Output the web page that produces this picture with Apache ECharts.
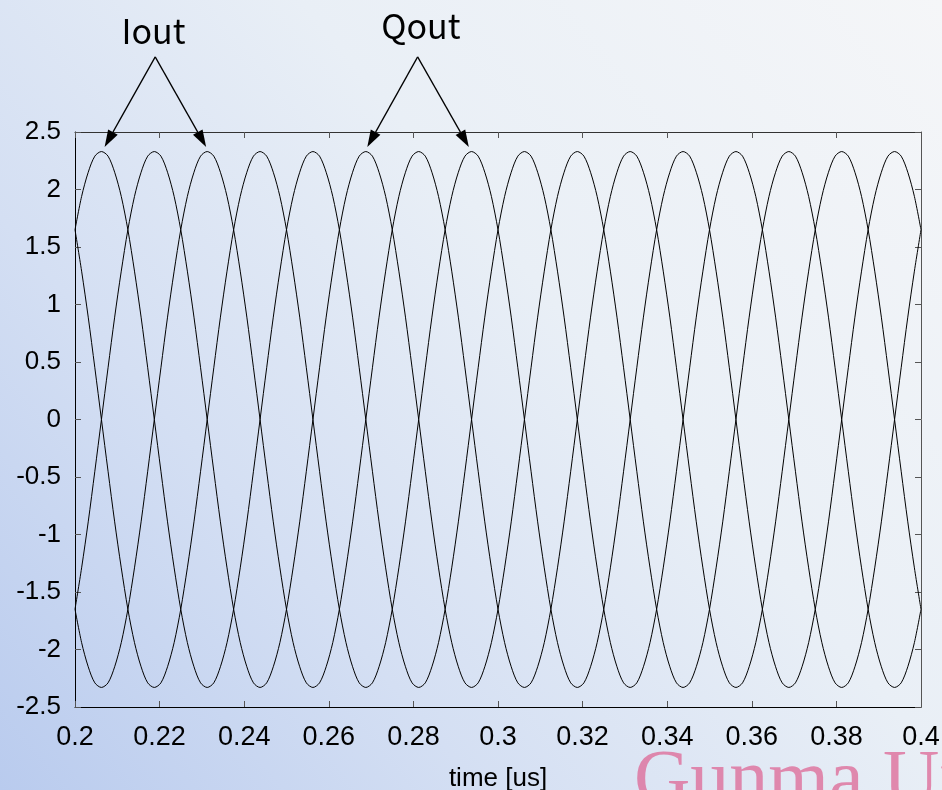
<!DOCTYPE html>
<html>
<head>
<meta charset="utf-8">
<script src="https://cdn.jsdelivr.net/npm/echarts@6/dist/echarts.min.js"></script>
<style>
html,body{margin:0;padding:0;}
#chart{width:942px;height:790px;}
</style>
</head>
<body>
<div id="chart"></div>
<script>
// time axis samples [us]
const time = [
  0.2, 0.2015625, 0.203125, 0.2046875, 0.20625, 0.2078125, 0.209375, 0.2109375, 0.2125, 0.2140625, 0.215625, 0.2171875, 0.21875, 0.2203125, 0.221875, 0.2234375,
  0.225, 0.2265625, 0.228125, 0.2296875, 0.23125, 0.2328125, 0.234375, 0.2359375, 0.2375, 0.2390625, 0.240625, 0.2421875, 0.24375, 0.2453125, 0.246875, 0.2484375,
  0.25, 0.2515625, 0.253125, 0.2546875, 0.25625, 0.2578125, 0.259375, 0.2609375, 0.2625, 0.2640625, 0.265625, 0.2671875, 0.26875, 0.2703125, 0.271875, 0.2734375,
  0.275, 0.2765625, 0.278125, 0.2796875, 0.28125, 0.2828125, 0.284375, 0.2859375, 0.2875, 0.2890625, 0.290625, 0.2921875, 0.29375, 0.2953125, 0.296875, 0.2984375,
  0.3, 0.3015625, 0.303125, 0.3046875, 0.30625, 0.3078125, 0.309375, 0.3109375, 0.3125, 0.3140625, 0.315625, 0.3171875, 0.31875, 0.3203125, 0.321875, 0.3234375,
  0.325, 0.3265625, 0.328125, 0.3296875, 0.33125, 0.3328125, 0.334375, 0.3359375, 0.3375, 0.3390625, 0.340625, 0.3421875, 0.34375, 0.3453125, 0.346875, 0.3484375,
  0.35, 0.3515625, 0.353125, 0.3546875, 0.35625, 0.3578125, 0.359375, 0.3609375, 0.3625, 0.3640625, 0.365625, 0.3671875, 0.36875, 0.3703125, 0.371875, 0.3734375,
  0.375, 0.3765625, 0.378125, 0.3796875, 0.38125, 0.3828125, 0.384375, 0.3859375, 0.3875, 0.3890625, 0.390625, 0.3921875, 0.39375, 0.3953125, 0.396875, 0.3984375,
  0.4
];
// Iout (+)
const iout = [
  1.65, 1.94, 2.15, 2.29, 2.33, 2.29, 2.15, 1.94, 1.65, 1.29, 0.89, 0.45, 0, -0.45, -0.89, -1.29, -1.65, -1.94, -2.15, -2.29, -2.33, -2.29, -2.15, -1.94, -1.65, -1.29, -0.89, -0.45, 0, 0.45, 0.89, 1.29,
  1.65, 1.94, 2.15, 2.29, 2.33, 2.29, 2.15, 1.94, 1.65, 1.29, 0.89, 0.45, 0, -0.45, -0.89, -1.29, -1.65, -1.94, -2.15, -2.29, -2.33, -2.29, -2.15, -1.94, -1.65, -1.29, -0.89, -0.45, 0, 0.45, 0.89, 1.29,
  1.65, 1.94, 2.15, 2.29, 2.33, 2.29, 2.15, 1.94, 1.65, 1.29, 0.89, 0.45, 0, -0.45, -0.89, -1.29, -1.65, -1.94, -2.15, -2.29, -2.33, -2.29, -2.15, -1.94, -1.65, -1.29, -0.89, -0.45, 0, 0.45, 0.89, 1.29,
  1.65, 1.94, 2.15, 2.29, 2.33, 2.29, 2.15, 1.94, 1.65, 1.29, 0.89, 0.45, 0, -0.45, -0.89, -1.29, -1.65, -1.94, -2.15, -2.29, -2.33, -2.29, -2.15, -1.94, -1.65, -1.29, -0.89, -0.45, 0, 0.45, 0.89, 1.29,
  1.65
];
// Iout (-)
const ioutNeg = [
  -1.65, -1.94, -2.15, -2.29, -2.33, -2.29, -2.15, -1.94, -1.65, -1.29, -0.89, -0.45, 0, 0.45, 0.89, 1.29, 1.65, 1.94, 2.15, 2.29, 2.33, 2.29, 2.15, 1.94, 1.65, 1.29, 0.89, 0.45, 0, -0.45, -0.89, -1.29,
  -1.65, -1.94, -2.15, -2.29, -2.33, -2.29, -2.15, -1.94, -1.65, -1.29, -0.89, -0.45, 0, 0.45, 0.89, 1.29, 1.65, 1.94, 2.15, 2.29, 2.33, 2.29, 2.15, 1.94, 1.65, 1.29, 0.89, 0.45, 0, -0.45, -0.89, -1.29,
  -1.65, -1.94, -2.15, -2.29, -2.33, -2.29, -2.15, -1.94, -1.65, -1.29, -0.89, -0.45, 0, 0.45, 0.89, 1.29, 1.65, 1.94, 2.15, 2.29, 2.33, 2.29, 2.15, 1.94, 1.65, 1.29, 0.89, 0.45, 0, -0.45, -0.89, -1.29,
  -1.65, -1.94, -2.15, -2.29, -2.33, -2.29, -2.15, -1.94, -1.65, -1.29, -0.89, -0.45, 0, 0.45, 0.89, 1.29, 1.65, 1.94, 2.15, 2.29, 2.33, 2.29, 2.15, 1.94, 1.65, 1.29, 0.89, 0.45, 0, -0.45, -0.89, -1.29,
  -1.65
];
// Qout (+)
const qout = [
  -1.65, -1.29, -0.89, -0.45, 0, 0.45, 0.89, 1.29, 1.65, 1.94, 2.15, 2.29, 2.33, 2.29, 2.15, 1.94, 1.65, 1.29, 0.89, 0.45, 0, -0.45, -0.89, -1.29, -1.65, -1.94, -2.15, -2.29, -2.33, -2.29, -2.15, -1.94,
  -1.65, -1.29, -0.89, -0.45, 0, 0.45, 0.89, 1.29, 1.65, 1.94, 2.15, 2.29, 2.33, 2.29, 2.15, 1.94, 1.65, 1.29, 0.89, 0.45, 0, -0.45, -0.89, -1.29, -1.65, -1.94, -2.15, -2.29, -2.33, -2.29, -2.15, -1.94,
  -1.65, -1.29, -0.89, -0.45, 0, 0.45, 0.89, 1.29, 1.65, 1.94, 2.15, 2.29, 2.33, 2.29, 2.15, 1.94, 1.65, 1.29, 0.89, 0.45, 0, -0.45, -0.89, -1.29, -1.65, -1.94, -2.15, -2.29, -2.33, -2.29, -2.15, -1.94,
  -1.65, -1.29, -0.89, -0.45, 0, 0.45, 0.89, 1.29, 1.65, 1.94, 2.15, 2.29, 2.33, 2.29, 2.15, 1.94, 1.65, 1.29, 0.89, 0.45, 0, -0.45, -0.89, -1.29, -1.65, -1.94, -2.15, -2.29, -2.33, -2.29, -2.15, -1.94,
  -1.65
];
// Qout (-)
const qoutNeg = [
  1.65, 1.29, 0.89, 0.45, 0, -0.45, -0.89, -1.29, -1.65, -1.94, -2.15, -2.29, -2.33, -2.29, -2.15, -1.94, -1.65, -1.29, -0.89, -0.45, 0, 0.45, 0.89, 1.29, 1.65, 1.94, 2.15, 2.29, 2.33, 2.29, 2.15, 1.94,
  1.65, 1.29, 0.89, 0.45, 0, -0.45, -0.89, -1.29, -1.65, -1.94, -2.15, -2.29, -2.33, -2.29, -2.15, -1.94, -1.65, -1.29, -0.89, -0.45, 0, 0.45, 0.89, 1.29, 1.65, 1.94, 2.15, 2.29, 2.33, 2.29, 2.15, 1.94,
  1.65, 1.29, 0.89, 0.45, 0, -0.45, -0.89, -1.29, -1.65, -1.94, -2.15, -2.29, -2.33, -2.29, -2.15, -1.94, -1.65, -1.29, -0.89, -0.45, 0, 0.45, 0.89, 1.29, 1.65, 1.94, 2.15, 2.29, 2.33, 2.29, 2.15, 1.94,
  1.65, 1.29, 0.89, 0.45, 0, -0.45, -0.89, -1.29, -1.65, -1.94, -2.15, -2.29, -2.33, -2.29, -2.15, -1.94, -1.65, -1.29, -0.89, -0.45, 0, 0.45, 0.89, 1.29, 1.65, 1.94, 2.15, 2.29, 2.33, 2.29, 2.15, 1.94,
  1.65
];
const xName = 'time [us]';
const xMin = 0.2, xMax = 0.4, xStep = 0.02;
const yMin = -2.5, yMax = 2.5, yStep = 0.5;

// annotation anchors in data coordinates
const annotations = [
  { text: 'Iout', label: [0.21855, 3.38], apex: [0.21896, 3.153], tips: [[0.2070, 2.37], [0.2310, 2.37]] },
  { text: 'Qout', label: [0.28178, 3.42], apex: [0.2810, 3.153], tips: [[0.2691, 2.37], [0.2931, 2.37]] }
];

function zip(xs, ys) { return xs.map((x, i) => [x, ys[i]]); }

const chart = echarts.init(document.getElementById('chart'), null, { renderer: 'canvas' });
const labelFont = "Arial, 'Liberation Sans', sans-serif";
const lineSeries = (name, ys) => ({
  name, type: 'line', data: zip(time, ys), smooth: 0.3, showSymbol: false, symbol: 'none',
  lineStyle: { color: '#000', width: 1 }, animation: false, silent: true
});

chart.setOption({
  animation: false,
  backgroundColor: {
    type: 'linear', x: 0, y: 1, x2: 1, y2: 0,
    colorStops: [
      { offset: 0, color: '#b9cbee' },
      { offset: 0.3, color: '#d4dff3' },
      { offset: 0.6, color: '#e9eff6' },
      { offset: 1, color: '#f5f6f8' }
    ]
  },
  grid: { left: 75, right: 21, top: 132, bottom: 83, containLabel: false, outerBoundsMode: 'none' },
  xAxis: [
    {
      type: 'value', min: xMin, max: xMax, interval: xStep,
      name: xName, nameLocation: 'middle', nameGap: 59,
      nameTextStyle: { fontFamily: labelFont, fontSize: 26, color: '#000' },
      axisLine: { onZero: false, lineStyle: { color: '#000', width: 1 } },
      axisTick: { inside: true, length: 6, lineStyle: { color: '#555' } },
      axisLabel: { margin: 17, fontFamily: labelFont, fontSize: 27, color: '#000' },
      splitLine: { show: false }
    },
    {
      type: 'value', position: 'top', min: xMin, max: xMax, interval: xStep,
      axisLine: { onZero: false, lineStyle: { color: '#333', width: 1 } },
      axisTick: { inside: true, length: 6, lineStyle: { color: '#555' } },
      axisLabel: { show: false }, splitLine: { show: false }
    }
  ],
  yAxis: [
    {
      type: 'value', min: yMin, max: yMax, interval: yStep,
      axisLine: { onZero: false, lineStyle: { color: '#000', width: 1 } },
      axisTick: { inside: true, length: 6, lineStyle: { color: '#555' } },
      axisLabel: { margin: 14, fontFamily: labelFont, fontSize: 26, color: '#000' },
      splitLine: { show: false }
    },
    {
      type: 'value', position: 'right', min: yMin, max: yMax, interval: yStep,
      axisLine: { onZero: false, lineStyle: { color: '#555', width: 1 } },
      axisTick: { inside: true, length: 6, lineStyle: { color: '#555' } },
      axisLabel: { show: false }, splitLine: { show: false }
    }
  ],
  series: [
    lineSeries('Iout', iout),
    lineSeries('Iout (inv)', ioutNeg),
    lineSeries('Qout', qout),
    lineSeries('Qout (inv)', qoutNeg)
  ]
});

// annotation arrows/labels positioned through the chart's own coordinate conversion
const graphics = [];
graphics.push({
  type: 'text', left: 634, top: 744, z: 0, silent: true,
  style: { text: 'Gunma University', font: "78px 'Liberation Serif', 'Times New Roman', serif", fill: 'rgba(222,108,152,0.78)' }
});
annotations.forEach(a => {
  const apex = chart.convertToPixel({ gridIndex: 0 }, a.apex);
  const lp = chart.convertToPixel({ gridIndex: 0 }, a.label);
  graphics.push({
    type: 'text', x: lp[0], y: lp[1], z: 10, silent: true,
    style: { text: a.text, font: "34px 'Noto Sans CJK JP', sans-serif", fill: '#000', align: 'center', verticalAlign: 'middle' }
  });
  a.tips.forEach(t => {
    const tip = chart.convertToPixel({ gridIndex: 0 }, t);
    const dx = tip[0] - apex[0], dy = tip[1] - apex[1];
    const len = Math.sqrt(dx * dx + dy * dy);
    const ux = dx / len, uy = dy / len;
    const L = 17, W = 5.5;
    const bx = tip[0] - ux * L, by = tip[1] - uy * L;
    graphics.push({
      type: 'line', z: 10, silent: true,
      shape: { x1: apex[0], y1: apex[1], x2: bx, y2: by },
      style: { stroke: '#000', lineWidth: 1.3 }
    });
    graphics.push({
      type: 'polygon', z: 10, silent: true,
      shape: { points: [[tip[0], tip[1]], [bx - uy * W, by + ux * W], [bx + uy * W, by - ux * W]] },
      style: { fill: '#000' }
    });
  });
});
chart.setOption({ graphic: graphics });
</script>
</body>
</html>
